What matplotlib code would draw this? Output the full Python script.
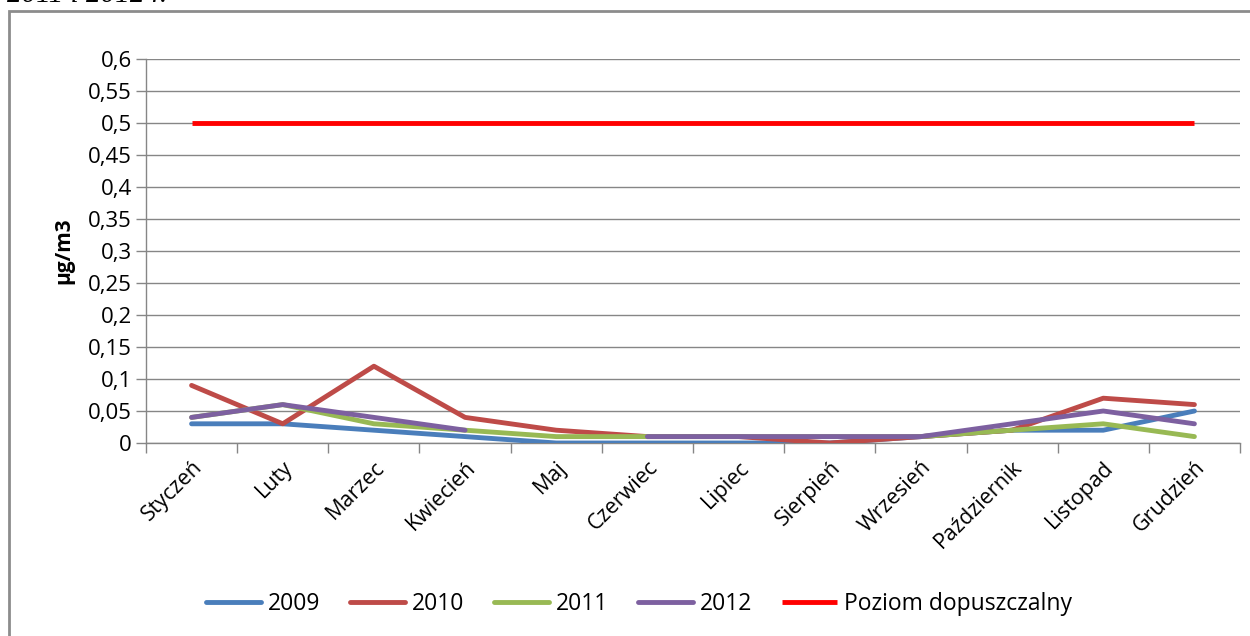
import numpy as np
import matplotlib
matplotlib.use("Agg")
import matplotlib.pyplot as plt
from matplotlib.patches import Rectangle
from matplotlib.ticker import FixedLocator

months = ["Styczeń", "Luty", "Marzec", "Kwiecień", "Maj", "Czerwiec", "Lipiec",
          "Sierpień", "Wrzesień", "Październik", "Listopad", "Grudzień"]

y2009 = [0.03, 0.03, 0.02, 0.01, 0.00, 0.00, 0.00, 0.00, 0.01, 0.02, 0.02, 0.05]
y2010 = [0.09, 0.03, 0.12, 0.04, 0.02, 0.01, 0.01, 0.00, 0.01, 0.02, 0.07, 0.06]
y2011 = [0.04, 0.06, 0.03, 0.02, 0.01, 0.01, 0.01, 0.01, 0.01, 0.02, 0.03, 0.01]
y2012 = [0.04, 0.06, 0.04, 0.02, np.nan, 0.01, 0.01, 0.01, 0.01, 0.03, 0.05, 0.03]
limit = [0.5] * 12

y_ticks = [0.0, 0.05, 0.1, 0.15, 0.2, 0.25, 0.3, 0.35, 0.4, 0.45, 0.5, 0.55, 0.6]
y_tick_labels = ["0", "0,05", "0,1", "0,15", "0,2", "0,25", "0,3", "0,35",
                 "0,4", "0,45", "0,5", "0,55", "0,6"]

plt.rcParams["font.family"] = ["Open Sans", "DejaVu Sans"]

W, H = 1250, 636
fig = plt.figure(figsize=(W / 100, H / 100), dpi=100)
fig.patch.set_facecolor("white")

# outer frame around the chart
fig.patches.append(Rectangle((9 / W, -0.2), 1.2, 1 - 11 / H + 0.2,
                             transform=fig.transFigure, fill=False,
                             edgecolor="#8c8c8c", linewidth=2, zorder=0))

# caption line above the frame (partly cut at the top edge)
fig.text(7 / W, 1 - 2 / H, "2011 i 2012 r.", family="Liberation Serif",
         style="italic", fontsize=21, ha="left", va="baseline", color="black")

ax = fig.add_axes([146 / W, 1 - 443 / H, (1240 - 146) / W, (443 - 59) / H])

x = np.arange(len(months))
series = [
    ("2009", y2009, "#4a7ebb"),
    ("2010", y2010, "#be4b48"),
    ("2011", y2011, "#98b954"),
    ("2012", y2012, "#7d60a0"),
]
for name, vals, col in series:
    ax.plot(x, vals, color=col, linewidth=3.5, label=name,
            solid_capstyle="round", solid_joinstyle="round", zorder=3)
ax.plot(x, limit, color="#ff0000", linewidth=3.5, label="Poziom dopuszczalny",
        solid_capstyle="butt", zorder=3)

ax.set_xlim(-0.5, len(months) - 0.5)
ax.set_ylim(0, 0.6)

ax.yaxis.set_major_locator(FixedLocator(y_ticks))
ax.set_yticklabels(y_tick_labels)
ax.yaxis.grid(True, color="#868686", linewidth=1)
ax.set_axisbelow(True)

# category labels centred, tick marks between categories
ax.set_xticks(x)
ax.set_xticklabels(months, rotation=45, ha="right", va="top",
                   rotation_mode="anchor", fontsize=15.5)
ax.tick_params(axis="x", which="major", length=0, pad=10)
ax.set_xticks(np.arange(-0.5, len(months)), minor=True)
ax.tick_params(axis="x", which="minor", length=7, color="#868686", width=1)
ax.tick_params(axis="y", length=7, color="#868686", width=1, labelsize=16, pad=3)

for side in ["top", "right"]:
    ax.spines[side].set_visible(False)
for side in ["left", "bottom"]:
    ax.spines[side].set_color("#868686")
    ax.spines[side].set_linewidth(1)

fig.text(64 / W, 1 - 251 / H, "µg/m3", rotation=90, fontsize=15,
         fontweight="bold", ha="center", va="center")

leg = ax.legend(loc="center", bbox_to_anchor=(639 / W, 1 - 604 / H),
                bbox_transform=fig.transFigure, ncol=5, frameon=False,
                fontsize=16.5, handlelength=2.4, handletextpad=0.3,
                columnspacing=1.3, borderpad=0)

fig.savefig("out.png", dpi=100)
